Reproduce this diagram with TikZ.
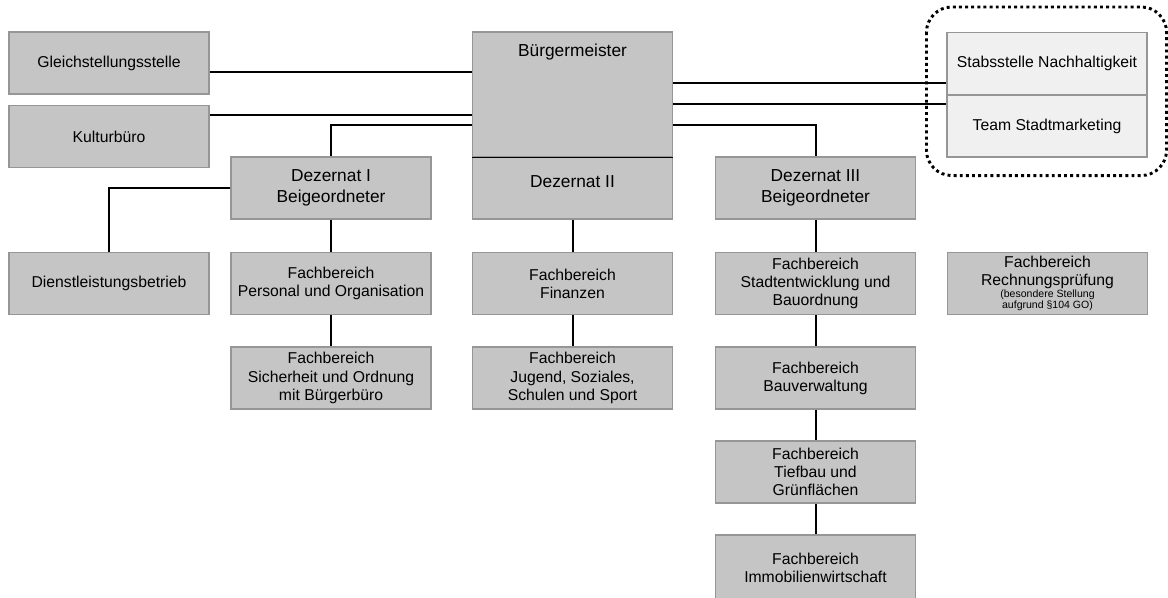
\documentclass[tikz,border=0pt]{standalone}
\usepackage{fontspec}
\setmainfont{Liberation Sans}
\usetikzlibrary{positioning, calc}
\definecolor{orgGray}{RGB}{197,197,197}
\definecolor{orgLight}{RGB}{240,240,240}
\definecolor{orgBorder}{RGB}{150,150,150}

\begin{document}
\begin{tikzpicture}[
  x=0.75pt, y=-0.75pt,
  unit/.style={draw=orgBorder, line width=0.8pt, fill=orgGray, minimum width=150pt, minimum height=46.5pt, align=center, inner sep=2pt, font=\fontsize{11.8}{13.6}\selectfont},
  head/.style={unit, font=\fontsize{13}{15.8}\selectfont},
  staff/.style={unit, fill=orgLight},
  link/.style={line width=1.5pt}
]
  \useasboundingbox (0,0) rectangle (1168,597);

  % Spitze
  \node[head, minimum height=93.75pt, label={[anchor=north, yshift=-6pt, font=\fontsize{13}{15.8}\selectfont]north:Bürgermeister}] (bgm) at (572.5,94.5) {};
  \node[head, text height=9pt, text depth=10pt] (dz2) at (572.5,188) {Dezernat II};
  \draw[line width=0.8pt] (bgm.south west) -- (bgm.south east);
  \node[head] (dz1) at (331,188) {Dezernat I\\Beigeordneter};
  \node[head] (dz3) at (815.5,188) {Dezernat III\\Beigeordneter};

  \node[unit] (gls) at (109,63) {Gleichstellungsstelle};
  \node[unit] (kul) at (109,136.5) {Kulturbüro};
  \node[staff] (stab) at (1047,63.5) {Stabsstelle Nachhaltigkeit};
  \node[staff] (team) at (1047,126) {Team Stadtmarketing};

  % Fachbereiche
  \node[unit] (dlb) at (109,283.5) {Dienstleistungsbetrieb};
  \node[unit] (fbpo) at (331,283.5) {Fachbereich\\Personal und Organisation};
  \node[unit] (fbso) at (331,378) {Fachbereich\\Sicherheit und Ordnung\\mit Bürgerbüro};
  \node[unit] (fbfi) at (572.5,283.5) {Fachbereich\\Finanzen};
  \node[unit] (fbju) at (572.5,378) {Fachbereich\\Jugend, Soziales,\\Schulen und Sport};
  \node[unit] (fbsb) at (815.5,283.5) {Fachbereich\\Stadtentwicklung und\\Bauordnung};
  \node[unit] (fbbv) at (815.5,378) {Fachbereich\\Bauverwaltung};
  \node[unit] (fbtg) at (815.5,472) {Fachbereich\\Tiefbau und\\Grünflächen};
  \node[unit, minimum height=49.5pt] (fbim) at (815.5,568) {Fachbereich\\Immobilienwirtschaft};
  \node[unit] (fbrp) at (1047.5,283.5) {Fachbereich\\Rechnungsprüfung\\[-5pt]{\fontsize{7.9}{8.4}\selectfont (besondere Stellung}\\[-5.2pt]{\fontsize{7.9}{8.4}\selectfont aufgrund §104 GO)}};

  % Verbindungen
  \coordinate (bl1) at ($(bgm.north west)+(0,41)$);
  \coordinate (bl2) at ($(bgm.north west)+(0,84)$);
  \coordinate (bl3) at ($(bgm.north west)+(0,94)$);
  \coordinate (br1) at ($(bgm.north east)+(0,52)$);
  \coordinate (br2) at ($(bgm.north east)+(0,73)$);
  \coordinate (br3) at ($(bgm.north east)+(0,94)$);
  \draw[link] (bl1) -- (bl1 -| gls.east);
  \draw[link] (bl2) -- (bl2 -| kul.east);
  \draw[link] (bl3) -| (dz1.north);
  \draw[link] (br1) -- (br1 -| stab.west);
  \draw[link] (br2) -- (br2 -| team.west);
  \draw[link] (br3) -| (dz3.north);
  \draw[link] (dz1.west) -| (dlb.north);
  \draw[link] (dz1.south) -- (fbpo.north);
  \draw[link] (fbpo.south) -- (fbso.north);
  \draw[link] (dz2.south) -- (fbfi.north);
  \draw[link] (fbfi.south) -- (fbju.north);
  \draw[link] (dz3.south) -- (fbsb.north);
  \draw[link] (fbsb.south) -- (fbbv.north);
  \draw[link] (fbbv.south) -- (fbtg.north);
  \draw[link] (fbtg.south) -- (fbim.north);

  % Stabsstellen
  \draw[line width=2.2pt, dash pattern=on 2.2pt off 2.4pt, rounded corners=19pt]
    ($(stab.north west)+(-20,-25)$) rectangle ($(team.south east)+(19,18)$);
\end{tikzpicture}
\end{document}
